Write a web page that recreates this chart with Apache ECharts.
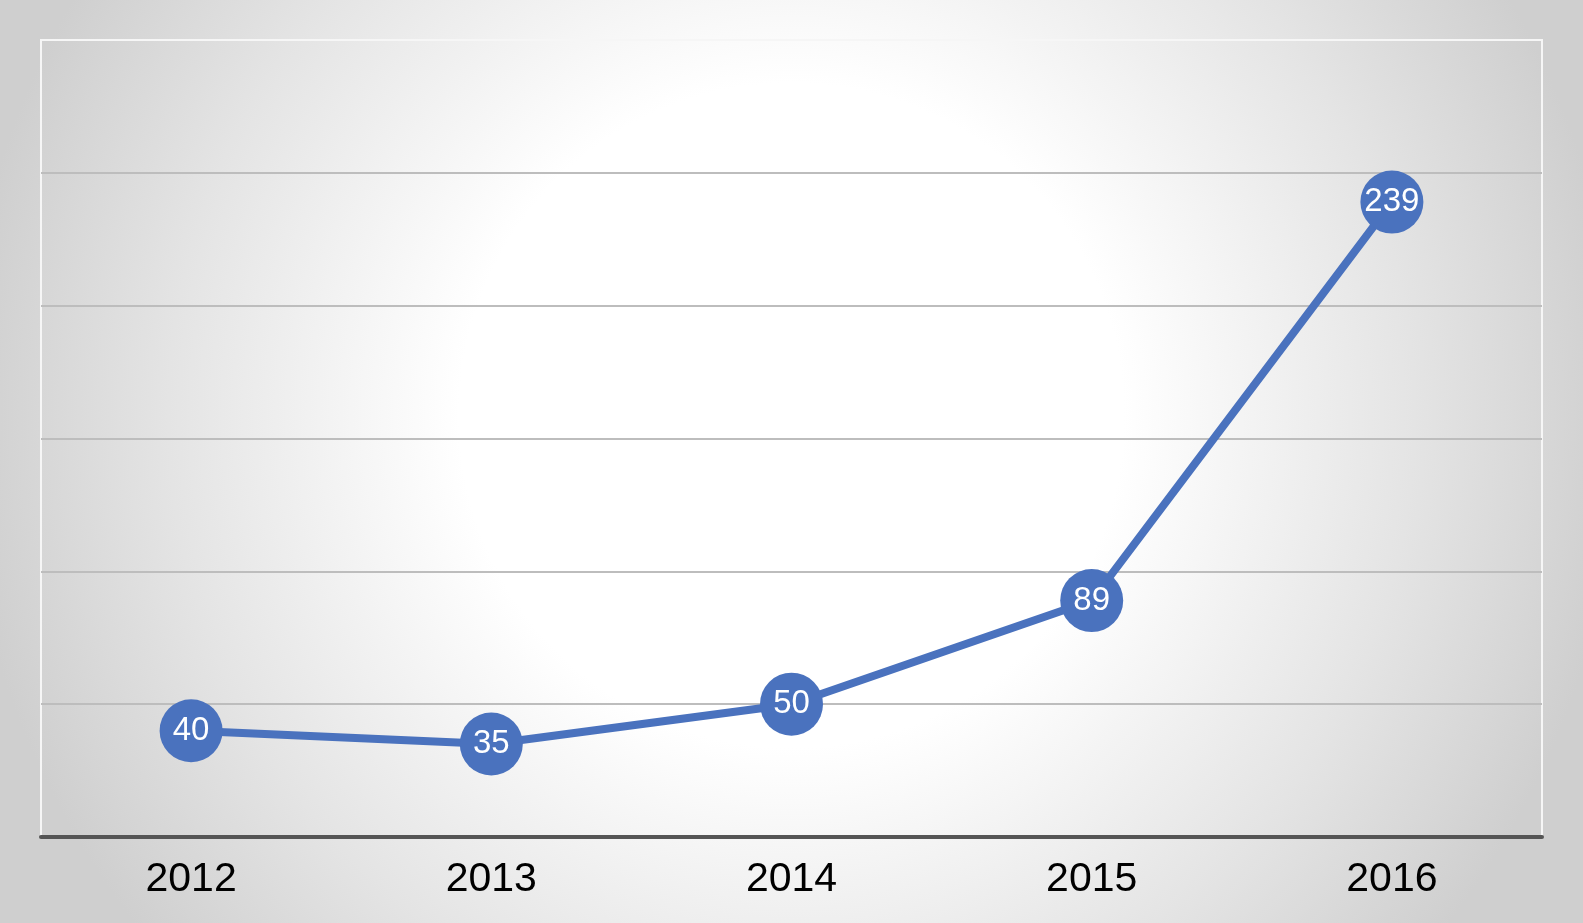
<!DOCTYPE html>
<html>
<head>
<meta charset="utf-8">
<script src="https://cdn.jsdelivr.net/npm/echarts@6/dist/echarts.min.js"></script>
<style>
  html, body { margin: 0; padding: 0; }
  #main { width: 1583px; height: 923px; }
</style>
</head>
<body>
<div id="main"></div>
<script>
var years = ['2012', '2013', '2014', '2015', '2016'];
var values = [40, 35, 50, 89, 239];

var chart = echarts.init(document.getElementById('main'));
var blue = '#4a72be';

var option = {
  backgroundColor: new echarts.graphic.RadialGradient(0.5, 0.45, 0.9, [
    { offset: 0, color: '#ffffff' },
    { offset: 0.4, color: '#ffffff' },
    { offset: 0.75, color: '#e4e4e4' },
    { offset: 1, color: '#cfcfcf' }
  ]),
  grid: {
    left: 41,
    right: 41,
    top: 40,
    bottom: 86,
    show: true,
    borderColor: '#f6f6f6',
    borderWidth: 2,
    backgroundColor: 'transparent'
  },
  xAxis: {
    type: 'category',
    data: years,
    axisTick: { show: false },   // no ticks in the original
    axisLine: {
      lineStyle: { color: '#555555', width: 4 }
    },
    axisLabel: {
      color: '#000000',
      fontSize: 41,
      fontFamily: 'Liberation Sans',
      margin: 22
    }
  },
  yAxis: {
    type: 'value',
    min: 0,
    max: 300,
    interval: 50,
    axisLine: { show: false },
    axisTick: { show: false },
    axisLabel: { show: false },
    splitLine: {
      showMaxLine: false,
      lineStyle: { color: '#bdbdbd', width: 2 }
    }
  },
  series: [{
    type: 'line',
    data: values,
    symbol: 'circle',
    symbolSize: 63,
    lineStyle: { color: blue, width: 8 },
    itemStyle: { color: blue },
    label: {
      show: true,
      position: 'inside',
      color: '#ffffff',
      fontSize: 33,
      fontFamily: 'Liberation Sans'
    },
    z: 5
  }]
};
chart.setOption(option);
</script>
</body>
</html>
